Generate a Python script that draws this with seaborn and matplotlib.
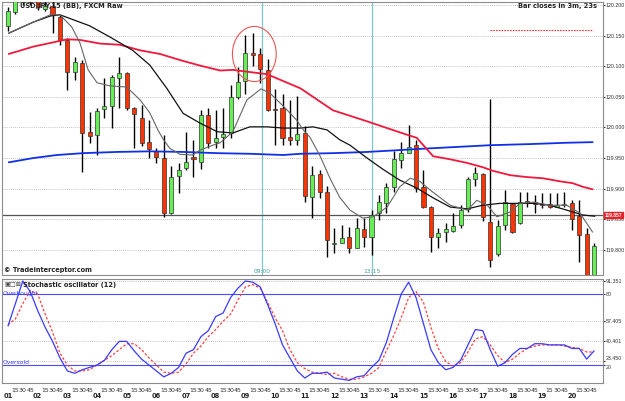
#!/usr/bin/env python3
# -*- coding: utf-8 -*-

import numpy as np
import matplotlib
matplotlib.use("Agg")
import matplotlib.pyplot as plt
import matplotlib.transforms as mtransforms
from matplotlib.patches import Ellipse
import seaborn as sns

# -----------------------------------------------------------------------------
# 1. Data, one entry per 15 minute bar
# -----------------------------------------------------------------------------
opens = [120.165, 120.189, 120.205, 120.215, 120.212, 120.194, 120.198, 120.180,
         120.143, 120.091, 120.105, 119.993, 119.988, 120.030, 120.035, 120.081,
         120.089, 120.032, 120.015, 119.976, 119.961, 119.950, 119.860, 119.921,
         119.934, 119.952, 119.943, 120.020, 119.976, 119.984, 119.991, 120.050,
         120.076, 120.121, 120.120, 120.094, 120.030, 120.032, 119.984, 119.980,
         119.991, 119.886, 119.924, 119.894, 119.810, 119.811, 119.821, 119.803,
         119.834, 119.821, 119.860, 119.876, 119.903, 119.947, 119.958, 119.971,
         119.903, 119.870, 119.821, 119.829, 119.831, 119.841, 119.867, 119.916,
         119.924, 119.845, 119.793, 119.841, 119.875, 119.844, 119.880, 119.878,
         119.875, 119.875, 119.870, 119.873, 119.876, 119.855, 119.826, 119.745]
highs = [120.196, 120.214, 120.220, 120.218, 120.215, 120.206, 120.206, 120.184,
         120.146, 120.115, 120.110, 120.025, 120.032, 120.081, 120.086, 120.115,
         120.091, 120.033, 120.037, 120.012, 119.966, 119.988, 119.937, 119.942,
         119.993, 119.980, 120.028, 120.032, 120.028, 120.032, 120.069, 120.099,
         120.151, 120.154, 120.130, 120.112, 120.063, 120.055, 120.045, 120.051,
         120.002, 119.937, 119.930, 119.904, 119.836, 119.841, 119.837, 119.852,
         119.852, 119.865, 119.890, 119.909, 119.961, 119.976, 120.004, 119.980,
         119.930, 119.872, 119.836, 119.844, 119.860, 119.873, 119.919, 119.935,
         119.926, 120.046, 119.849, 119.898, 119.876, 119.894, 119.894, 119.890,
         119.893, 119.893, 119.893, 119.894, 119.881, 119.881, 119.836, 119.811]
lows = [120.158, 120.186, 120.200, 120.200, 120.192, 120.190, 120.154, 120.135,
        120.061, 120.077, 119.927, 119.975, 119.955, 120.015, 119.999, 120.032,
        120.028, 119.966, 119.970, 119.950, 119.942, 119.854, 119.858, 119.893,
        119.930, 119.919, 119.932, 119.966, 119.966, 119.966, 119.983, 120.046,
        120.055, 120.100, 120.073, 120.027, 119.971, 119.971, 119.971, 119.971,
        119.878, 119.852, 119.885, 119.788, 119.795, 119.811, 119.795, 119.803,
        119.805, 119.791, 119.849, 119.860, 119.894, 119.934, 119.958, 119.894,
        119.868, 119.796, 119.803, 119.813, 119.829, 119.836, 119.862, 119.904,
        119.847, 119.772, 119.790, 119.832, 119.827, 119.842, 119.870, 119.860,
        119.868, 119.868, 119.870, 119.870, 119.832, 119.780, 119.740, 119.740]
closes = [120.190, 120.210, 120.215, 120.205, 120.196, 120.198, 120.184, 120.143,
          120.091, 120.107, 119.991, 119.986, 120.027, 120.035, 120.082, 120.089,
          120.032, 120.022, 119.975, 119.965, 119.952, 119.860, 119.919, 119.930,
          119.943, 119.949, 120.020, 119.975, 119.983, 119.989, 120.050, 120.074,
          120.122, 120.119, 120.095, 120.028, 120.029, 119.983, 119.980, 119.989,
          119.888, 119.922, 119.894, 119.816, 119.812, 119.819, 119.803, 119.836,
          119.821, 119.857, 119.878, 119.903, 119.948, 119.958, 119.968, 119.901,
          119.870, 119.821, 119.827, 119.834, 119.839, 119.865, 119.916, 119.926,
          119.854, 119.783, 119.839, 119.878, 119.829, 119.878, 119.876, 119.875,
          119.874, 119.870, 119.873, 119.873, 119.850, 119.824, 119.745, 119.806]

# moving averages, sampled along the picture (bar index, price)
ma_fast_x = [0.1, 3.4, 5.7, 7.0, 8.6, 9.7, 10.8, 12.0, 13.7, 16.0, 17.8, 19.1, 20.2,
             20.9, 21.8, 23.2, 24.9, 25.9, 27.6, 28.6, 30.3, 32.2, 34.1, 35.3, 37.1,
             38.9, 39.8, 40.7, 42.0, 43.4, 44.7, 46.1, 47.8, 49.2, 51.1, 52.8, 54.2,
             55.5, 57.3, 59.6, 61.9, 63.2, 64.6, 65.9, 67.7, 69.0, 70.8, 73.0, 75.3,
             77.1, 78.8]
ma_fast_y = [120.154, 120.172, 120.184, 120.184, 120.164, 120.138, 120.094, 120.073,
             120.068, 120.066, 120.045, 120.024, 119.996, 119.981, 119.966, 119.956,
             119.955, 119.963, 119.971, 119.975, 119.993, 120.045, 120.063, 120.056,
             120.035, 120.012, 119.996, 119.984, 119.955, 119.917, 119.886, 119.865,
             119.852, 119.854, 119.870, 119.903, 119.917, 119.912, 119.894, 119.873,
             119.865, 119.881, 119.873, 119.854, 119.862, 119.876, 119.878, 119.873,
             119.873, 119.860, 119.829]
ma_slow_x = [0.1, 3.4, 5.7, 7.0, 11.0, 13.7, 16.8, 19.1, 21.4, 23.6, 25.9, 28.2, 30.3,
             32.6, 34.9, 37.1, 39.4, 41.1, 43.0, 44.7, 46.1, 48.4, 50.5, 52.8, 55.1,
             57.3, 59.6, 61.9, 64.0, 66.3, 68.6, 70.8, 73.0, 75.3, 77.5, 79.1]
ma_slow_y = [120.154, 120.172, 120.182, 120.184, 120.166, 120.148, 120.126, 120.102,
             120.064, 120.023, 120.007, 119.993, 119.991, 120.001, 120.001, 119.999,
             119.999, 120.001, 119.996, 119.980, 119.971, 119.950, 119.932, 119.914,
             119.901, 119.885, 119.870, 119.867, 119.873, 119.876, 119.876, 119.876,
             119.873, 119.865, 119.857, 119.855]
ma_red_x = [0.1, 3.4, 5.7, 8.0, 9.7, 12.4, 15.1, 17.8, 20.5, 23.2, 25.9, 28.6, 30.3,
            34.9, 39.4, 43.8, 48.4, 52.8, 55.1, 57.3, 59.6, 61.9, 64.0, 65.4, 67.7,
            69.9, 72.1, 74.4, 76.1, 77.5, 78.8]
ma_red_y = [120.120, 120.132, 120.138, 120.144, 120.143, 120.137, 120.135, 120.126,
            120.120, 120.110, 120.101, 120.093, 120.094, 120.087, 120.064, 120.028,
            120.010, 119.992, 119.983, 119.953, 119.948, 119.942, 119.935, 119.929,
            119.922, 119.919, 119.917, 119.912, 119.909, 119.903, 119.899]
ma_blue_x = [0.1, 3.4, 6.6, 10.1, 14.7, 19.1, 23.6, 28.2, 32.6, 37.1, 39.4, 43.8,
             48.4, 52.8, 55.5, 65.0, 70.8, 75.3, 78.8]
ma_blue_y = [119.943, 119.950, 119.955, 119.958, 119.960, 119.961, 119.960, 119.958,
             119.957, 119.955, 119.957, 119.958, 119.960, 119.963, 119.965, 119.971,
             119.973, 119.975, 119.976]

# stochastic oscillator (12): %K (blue) and %D (red dashed)
stoch_k = [53, 72, 91, 82, 66, 52, 40, 26, 15, 13, 16, 18, 20, 24, 33, 40,
           40, 32, 25, 20, 15, 10, 13, 18, 30, 33, 44, 49, 61, 64, 77, 85,
           91, 90, 86, 71, 55, 37, 26, 15, 9, 13, 13, 14, 9, 8, 7, 10,
           11, 18, 24, 39, 60, 80, 90, 77, 55, 33, 22, 16, 18, 24, 37, 50,
           49, 33, 19, 22, 29, 34, 34, 38, 38, 37, 37, 37, 34, 34, 25, 32]
stoch_d = [54, 59, 72, 83, 80, 63, 48, 30, 20, 15, 15, 16, 20, 24, 28, 33,
           38, 38, 33, 26, 20, 14, 13, 14, 21, 30, 36, 44, 50, 57, 63, 75,
           86, 88, 85, 73, 60, 49, 33, 22, 17, 14, 13, 12, 13, 10, 8, 8,
           10, 13, 18, 32, 45, 60, 77, 82, 73, 52, 34, 23, 19, 22, 31, 42,
           44, 37, 28, 22, 25, 30, 34, 36, 37, 37, 37, 36, 35, 34, 31, 31]

price_ticks = [119.80, 119.85, 119.90, 119.95, 120.00, 120.05, 120.10, 120.15, 120.20]
osc_ticks = [20, 23.450, 40.401, 57.405, 80, 91.351]
osc_tick_labels = ["20", "23.450", "40.401", "57.405", "80", "91.351"]
hour_labels = ["01", "02", "03", "04", "05", "06", "07", "08", "09", "10",
               "11", "12", "13", "14", "15", "16", "17", "18", "19", "20"]
minute_labels = ["15", "30", "45"]

session_lines = [34.2, 49.05]
session_labels = ["09:00", "13:15"]
marked_level = 119.857
alert_level = 120.159
alert_span = [65.0, 78.8]
circle_center = (33.2, 120.120)
circle_size = (5.9, 0.090)

# -----------------------------------------------------------------------------
# 2. Figure layout (pixel based, 625 x 401)
# -----------------------------------------------------------------------------
sns.set_style("white")
plt.rcParams['font.family'] = ['DejaVu Sans']
NARROW = ['Liberation Sans Narrow', 'Liberation Sans', 'DejaVu Sans']

W, H = 625.0, 401.0


def px_box(left, top, right, bottom):
    return [left / W, 1 - bottom / H, (right - left) / W, (bottom - top) / H]


fig = plt.figure(figsize=(6.25, 4.01), dpi=100)
ax_main = fig.add_axes(px_box(2, 2, 603, 275))
ax_osc = fig.add_axes(px_box(2, 279, 603, 383), sharex=ax_main)

GREEN = "#66ee55"
RED = "#ff3300"
FRAME = "#8c8c8c"

# --- candles ---
idx = np.arange(len(opens))
o = np.array(opens)
c = np.array(closes)
up = c >= o
body_lo = np.minimum(o, c)
body_h = np.maximum(np.abs(c - o), 0.0012)
ax_main.vlines(idx, lows, highs, color="black", lw=1.0, zorder=3)
ax_main.bar(idx, body_h, bottom=body_lo, width=0.55,
            color=np.where(up, GREEN, RED), edgecolor="#333333",
            linewidth=0.5, zorder=4)

# --- moving averages ---
sns.lineplot(x=ma_blue_x, y=ma_blue_y, ax=ax_main, color="#1030e8", linewidth=1.3, zorder=5)
sns.lineplot(x=ma_red_x, y=ma_red_y, ax=ax_main, color="#f0183c", linewidth=1.3, zorder=5)
sns.lineplot(x=ma_slow_x, y=ma_slow_y, ax=ax_main, color="#111111", linewidth=0.9, zorder=6)
sns.lineplot(x=ma_fast_x, y=ma_fast_y, ax=ax_main, color="#666666", linewidth=0.8, zorder=6)

# --- extra drawings ---
ax_main.axhline(marked_level, color="#555555", lw=0.9, zorder=2)
ax_main.hlines(alert_level, alert_span[0], alert_span[1], colors="#ff3333",
               linestyles=(0, (1.5, 1)), lw=0.8)
for xv, lab in zip(session_lines, session_labels):
    ax_main.axvline(xv, color="#80c8c8", lw=0.9, zorder=1)
    ax_main.text(xv, 0.012, lab, transform=mtransforms.blended_transform_factory(
        ax_main.transData, ax_main.transAxes), ha="center", va="center",
        fontsize=4.3, color="#40a0a0")
ax_main.add_patch(Ellipse(circle_center, circle_size[0], circle_size[1],
                          fill=False, edgecolor="#ee5555", lw=0.8, zorder=7))

ax_main.set_xlim(-0.81, 80.2)
ax_main.set_ylim(119.759, 120.2049)
ax_main.set_yticks(price_ticks)
ax_main.set_yticklabels([f"{p:.3f}" for p in price_ticks], family=NARROW)
ax_main.yaxis.tick_right()
ax_main.grid(axis="y", color="#b0b0b0", linestyle=(0, (1, 1.5)), lw=0.6)
ax_main.tick_params(axis="y", labelsize=3.8, length=1.2, pad=0.8, colors="#333333")
ax_main.tick_params(axis="x", bottom=False, labelbottom=False)
for s in ax_main.spines.values():
    s.set_color(FRAME)
    s.set_linewidth(0.8)

# price label box on the right
ax_main.text(1.003, marked_level, f"{marked_level:.3f}",
             transform=mtransforms.blended_transform_factory(ax_main.transAxes, ax_main.transData),
             ha="left", va="center", fontsize=3.6, color="white", fontweight="bold",
             family=NARROW,
             bbox=dict(boxstyle="square,pad=0.1", fc="#e8202a", ec="#e8202a"), zorder=10,
             clip_on=False)

# --- stochastic panel ---
sns.lineplot(x=idx, y=stoch_d, ax=ax_osc, color="#ff4040", linewidth=0.9,
             linestyle=(0, (2, 1.5)), zorder=4)
sns.lineplot(x=idx, y=stoch_k, ax=ax_osc, color="#3a3aff", linewidth=0.9, zorder=5)
ax_osc.axhline(80, color="#4a4aff", lw=0.8, zorder=2)
ax_osc.axhline(20, color="#4a4aff", lw=0.8, zorder=2)
for lvl in [23.450, 40.401, 57.405, 91.351]:
    ax_osc.axhline(lvl, color="#b0b0b0", linestyle=(0, (1, 1.5)), lw=0.6, zorder=1)

ax_osc.set_ylim(4.8, 92.7)
ax_osc.set_yticks(osc_ticks)
ax_osc.set_yticklabels(osc_tick_labels, family=NARROW)
ax_osc.yaxis.tick_right()
ax_osc.tick_params(axis="y", labelsize=3.8, length=1.2, pad=0.8, colors="#333333")
osc_labels = ax_osc.get_yticklabels()
osc_labels[0].set_va("top")
osc_labels[1].set_va("bottom")

minute_pos = [i for i in range(-1, 80) if i % 4 != 0]
ax_osc.set_xticks(minute_pos)
ax_osc.set_xticklabels([minute_labels[(i % 4) - 1] for i in minute_pos])
ax_osc.tick_params(axis="x", labelsize=4.5, length=2, pad=1.5, colors="#333333")
hour_trans = mtransforms.blended_transform_factory(ax_osc.transData, ax_osc.transAxes)
for k, lab in enumerate(hour_labels):
    ax_osc.text(k * 4, -0.125, lab, transform=hour_trans, ha="center", va="center",
                fontsize=4.8, fontweight="bold", color="#222222")
ax_osc.set_xlim(-0.81, 80.2)
for s in ax_osc.spines.values():
    s.set_color(FRAME)
    s.set_linewidth(0.8)

# --- texts ---
fig.text(20 / W, 1 - 6 / H, "USD/JPY,15 (BB), FXCM Raw", fontsize=4.8,
         fontweight="bold", va="center", ha="left", color="#222222")
fig.text(597 / W, 1 - 6 / H, "Bar closes in 3m, 23s", fontsize=4.8,
         fontweight="bold", va="center", ha="right", color="#222222")
fig.text(4 / W, 1 - 270 / H, "\u00a9 Tradeinterceptor.com", fontsize=4.8,
         fontweight="bold", va="center", ha="left", color="#222222")
fig.text(23 / W, 1 - 285 / H, "Stochastic oscillator (12)", fontsize=4.8,
         fontweight="bold", va="center", ha="left", color="#222222")
fig.text(4 / W, 1 - 285 / H, "\u25a3\u25a1\u22a0", fontsize=4.5,
         va="center", ha="left", color="#444444")
fig.text(3 / W, 1 - 293 / H, "Overbought", fontsize=4.3, va="center",
         ha="left", color="#3a3aff")
fig.text(3 / W, 1 - 363 / H, "Oversold", fontsize=4.3, va="center",
         ha="left", color="#3a3aff")

fig.savefig("out.png", dpi=100)
